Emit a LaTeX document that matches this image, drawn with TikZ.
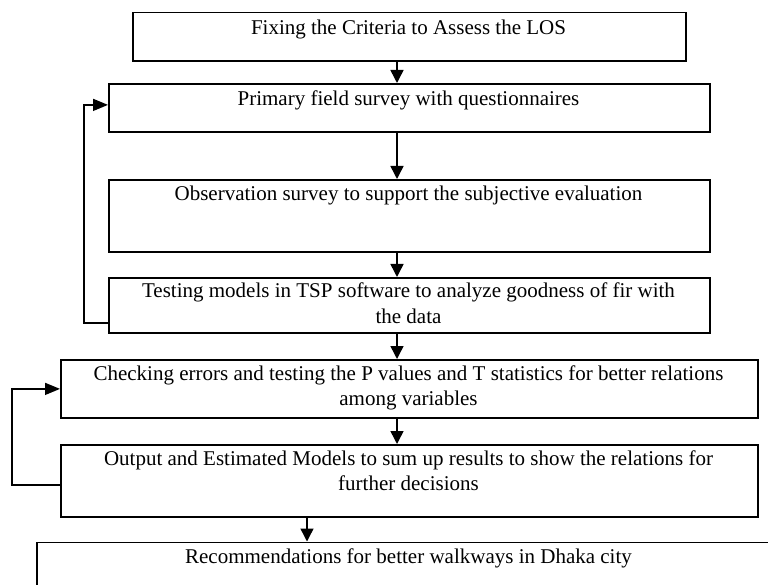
\documentclass[tikz,border=0pt]{standalone}
\usepackage{fontspec}
\setmainfont{Liberation Serif}
\usetikzlibrary{arrows.meta,calc}
\tikzset{
  box/.style={draw, line width=1.8pt, rectangle, inner sep=0pt, anchor=north west},
  txt/.style={inner sep=0pt, align=center, anchor=base, font=\fontsize{21}{25}\selectfont},
  arr/.style={line width=1.5pt, -{Triangle[width=13pt,length=13pt]}},
  loop/.style={line width=1.5pt, -{Triangle[width=12pt,length=15pt]}}
}
\begin{document}
\begin{tikzpicture}[x=1pt,y=-1pt]
\path[use as bounding box] (0,0) rectangle (768,585);
\begin{scope}
\clip (0,0) rectangle (768,585);
% boxes
\node[box, minimum width=553pt, minimum height=48.5pt] (b1) at (132,11.7) {};
\node[box, minimum width=601pt, minimum height=48pt] (b2) at (108,83) {};
\node[box, minimum width=601pt, minimum height=72pt] (b3) at (108,179) {};
\node[box, minimum width=601pt, minimum height=55pt] (b4) at (108,277) {};
\node[box, minimum width=697pt, minimum height=58pt] (b5) at (60,359) {};
\node[box, minimum width=697pt, minimum height=72pt] (b6) at (60,444) {};
\node[box, minimum width=800pt, minimum height=80pt] (b7) at (36,541.5) {};
% texts (base anchor = baseline of the last line)
\node[txt] (t1) at (408.5,35) {Fixing the Criteria to Assess the LOS};
\node[txt] (t2) at (408.5,106) {Primary field survey with questionnaires};
\node[txt] (t3) at (408.5,201) {Observation survey to support the subjective evaluation};
\node[txt] (t4) at (408.5,323) {Testing models in TSP software to analyze goodness of fir with\\the data};
\node[txt] (t5) at (408.5,405) {Checking errors and testing the P values and T statistics for better relations\\among variables};
\node[txt] (t6) at (408.5,490) {Output and Estimated Models to sum up results to show the relations for\\further decisions};
\node[txt] (t7) at (408.5,563) {Recommendations for better walkways in Dhaka city};
% arrows
\coordinate (ax) at (397,0);
\coordinate (bx) at (307,0);
\draw[arr] (b1.south -| ax) -- (b2.north -| ax);
\draw[arr] (b2.south -| ax) -- (b3.north -| ax);
\draw[arr] (b3.south -| ax) -- (b4.north -| ax);
\draw[arr] (b4.south -| ax) -- (b5.north -| ax);
\draw[arr] (b5.south -| ax) -- (b6.north -| ax);
\draw[arr] (b6.south -| bx) -- (b7.north -| bx);
% feedback loops
\draw[loop] ([yshift=11pt]b4.south west) -- ++(-24pt,0) |- ([yshift=3pt]b2.west);
\draw[loop] ([yshift=-4pt]b6.west) -- ++(-48pt,0) |- (b5.west);
\end{scope}
\end{tikzpicture}
\end{document}
